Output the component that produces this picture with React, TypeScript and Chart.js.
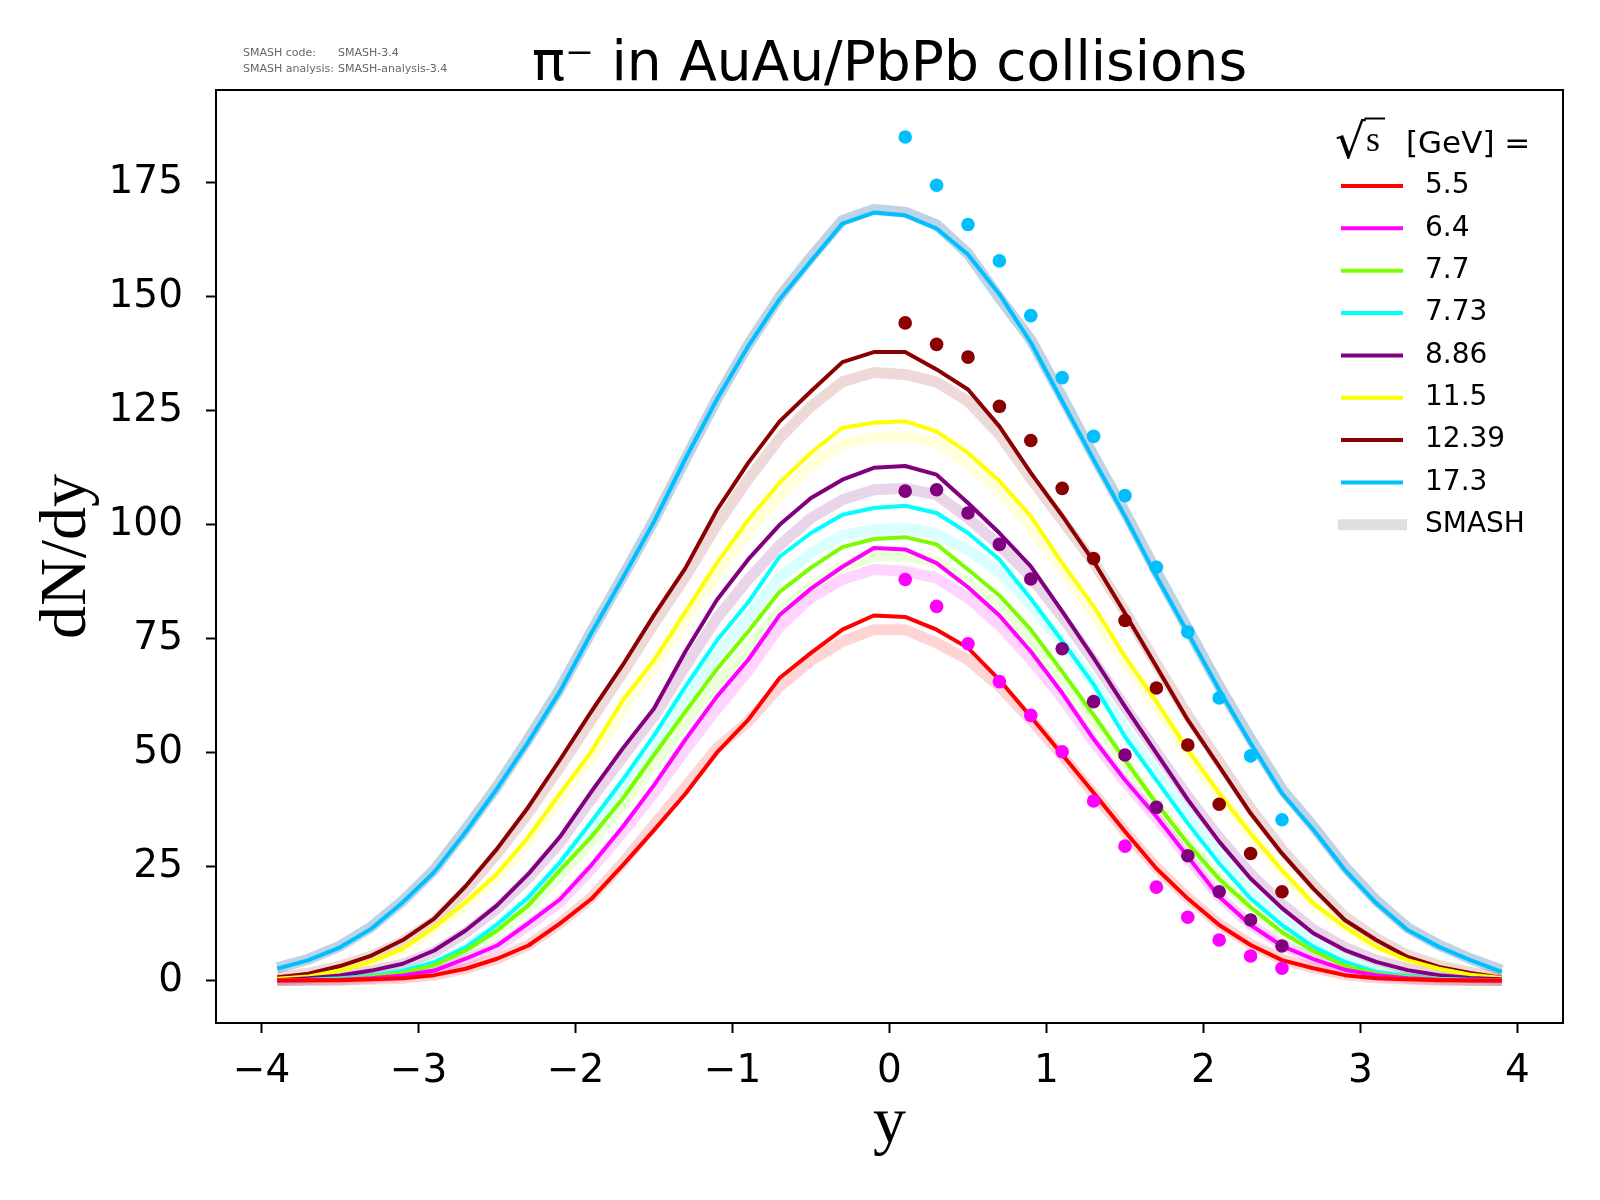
import { useEffect, useRef } from "react";
import { Chart, registerables } from "chart.js";

Chart.register(...registerables);

// rapidity grid of the model curves
const Y_GRID = [
  -3.9, -3.7, -3.5, -3.3, -3.1, -2.9, -2.7, -2.5, -2.3, -2.1, -1.9, -1.7, -1.5, -1.3, -1.1, -0.9, -0.7, -0.5, -0.3, -0.1,
  0.1, 0.3, 0.5, 0.7, 0.9, 1.1, 1.3, 1.5, 1.7, 1.9, 2.1, 2.3, 2.5, 2.7, 2.9, 3.1, 3.3, 3.5, 3.7, 3.9,
];
// rapidity of the measured points
const DATA_Y = [0.1, 0.3, 0.5, 0.7, 0.9, 1.1, 1.3, 1.5, 1.7, 1.9, 2.1, 2.3, 2.5];

const ENERGIES = ["5.5", "6.4", "7.7", "7.73", "8.86", "11.5", "12.39", "17.3"];

const LINE_5_5 = [
  0.0, 0.1, 0.1, 0.3, 0.5, 1.2, 2.6, 4.8, 7.7, 12.5, 17.9, 25.3, 33.0, 41.0, 50.0, 57.2, 66.4, 71.9, 77.0, 80.1,
  79.8, 77.0, 73.0, 66.0, 57.9, 49.6, 41.2, 32.7, 24.6, 18.0, 12.2, 7.8, 4.5, 2.7, 1.2, 0.5, 0.3, 0.1, 0.0, 0.0,
];
const LINE_6_4 = [
  0.0, 0.1, 0.2, 0.5, 1.1, 2.2, 4.8, 7.7, 12.6, 17.8, 25.3, 33.7, 42.9, 52.9, 62.3, 70.4, 80.2, 86.0, 90.8, 94.9,
  94.6, 91.6, 86.3, 80.1, 72.2, 63.1, 53.0, 44.0, 36.0, 27.2, 18.4, 12.2, 7.6, 4.7, 2.4, 1.2, 0.5, 0.2, 0.1, 0.0,
];
const LINE_7_7 = [
  0.0, 0.1, 0.3, 0.8, 1.7, 3.4, 6.6, 11.0, 16.5, 24.2, 31.5, 39.9, 49.5, 59.0, 68.3, 76.6, 85.3, 90.6, 95.1, 96.9,
  97.3, 95.7, 90.2, 84.5, 77.0, 67.8, 58.3, 48.4, 38.9, 30.1, 22.3, 16.1, 10.6, 6.5, 3.3, 1.5, 0.7, 0.3, 0.1, 0.0,
];
const LINE_7_73 = [
  0.1, 0.2, 0.5, 1.0, 2.1, 4.0, 7.3, 12.3, 18.3, 25.9, 34.8, 44.0, 53.8, 64.5, 74.6, 83.0, 93.0, 98.2, 102.2, 103.7,
  104.2, 102.6, 98.2, 92.4, 83.8, 74.5, 65.0, 53.5, 44.0, 34.5, 25.7, 18.0, 12.2, 7.4, 4.1, 1.9, 0.9, 0.4, 0.2, 0.1,
];
const LINE_8_86 = [
  0.1, 0.5, 1.1, 2.2, 3.7, 6.6, 11.0, 16.5, 23.4, 31.5, 41.4, 50.9, 59.7, 72.2, 83.5, 92.4, 100.0, 105.9, 109.9, 112.5,
  112.9, 111.0, 104.8, 98.2, 90.9, 81.0, 70.8, 60.1, 49.9, 39.7, 30.5, 22.4, 15.9, 10.4, 6.7, 4.1, 2.3, 1.2, 0.6, 0.3,
];
const LINE_11_5 = [
  0.4, 0.9, 2.2, 4.2, 7.0, 11.7, 17.2, 23.4, 31.5, 41.0, 50.2, 61.5, 70.3, 80.9, 91.6, 101.1, 109.2, 115.8, 121.3, 122.4,
  122.7, 120.5, 115.8, 109.6, 101.9, 91.6, 82.1, 71.1, 61.2, 50.6, 41.1, 32.3, 24.2, 16.9, 11.8, 7.4, 4.5, 2.6, 1.3, 0.6,
];
const LINE_12_39 = [
  0.7, 1.5, 3.2, 5.5, 8.9, 13.6, 20.7, 28.9, 38.1, 48.4, 59.0, 69.2, 80.2, 90.5, 103.2, 113.6, 122.7, 129.3, 135.7, 137.9,
  137.9, 134.1, 129.7, 121.6, 111.4, 102.0, 92.0, 80.6, 68.9, 57.2, 47.0, 36.7, 27.9, 20.2, 13.3, 8.9, 5.2, 3.0, 1.7, 0.6,
];
const LINE_17_3 = [
  2.6, 4.5, 7.3, 11.4, 17.2, 23.8, 32.6, 42.1, 52.4, 63.4, 76.2, 88.3, 100.7, 114.5, 127.5, 139.2, 149.5, 157.9, 166.1, 168.5,
  167.9, 165.0, 159.3, 150.6, 140.0, 127.1, 114.3, 101.9, 88.7, 76.3, 63.8, 52.1, 41.1, 33.1, 24.3, 17.0, 11.1, 7.4, 4.5, 1.9,
];

// SMASH bands
const SMASH_5_5 = [
  0.0, 0.1, 0.1, 0.3, 0.5, 1.2, 2.6, 4.8, 7.8, 12.6, 18.2, 25.8, 34.2, 42.5, 51.0, 56.8, 64.5, 70.2, 74.4, 77.0,
  77.0, 74.1, 70.4, 64.6, 57.2, 49.4, 41.0, 32.7, 24.8, 18.2, 12.4, 8.0, 4.7, 2.8, 1.3, 0.6, 0.3, 0.1, 0.0, 0.0,
];
const SMASH_6_4 = [
  0.0, 0.1, 0.2, 0.5, 1.1, 2.2, 4.6, 7.4, 12.1, 17.2, 24.4, 32.5, 41.2, 50.7, 59.6, 68.0, 77.7, 84.0, 88.0, 90.2,
  89.8, 88.3, 84.0, 78.0, 70.5, 62.0, 52.4, 43.6, 35.7, 27.0, 18.4, 12.3, 7.8, 4.8, 2.5, 1.2, 0.5, 0.2, 0.1, 0.0,
];
const SMASH_7_7 = [
  0.0, 0.1, 0.3, 0.8, 1.6, 3.3, 6.4, 10.6, 16.0, 23.2, 30.4, 38.5, 47.6, 56.6, 65.2, 73.2, 81.0, 86.4, 90.8, 93.1,
  93.2, 91.8, 87.2, 81.6, 74.6, 66.2, 57.2, 47.8, 38.6, 30.0, 22.3, 16.1, 10.7, 6.6, 3.4, 1.6, 0.7, 0.3, 0.1, 0.0,
];
const SMASH_7_73 = [
  0.1, 0.2, 0.5, 1.0, 2.0, 3.8, 7.0, 11.8, 17.7, 25.0, 33.6, 42.6, 52.0, 62.0, 71.5, 79.8, 88.5, 93.8, 97.7, 98.9,
  99.3, 98.0, 94.5, 89.6, 82.5, 74.2, 65.5, 55.0, 45.6, 36.2, 27.4, 19.6, 13.4, 8.3, 4.7, 2.3, 1.1, 0.5, 0.2, 0.1,
];
const SMASH_8_86 = [
  0.2, 0.5, 1.1, 2.1, 3.6, 6.3, 10.5, 15.8, 22.5, 30.3, 39.8, 49.0, 58.0, 69.0, 79.5, 88.0, 95.5, 101.5, 105.5, 107.7,
  108.0, 106.6, 101.5, 95.5, 88.6, 79.8, 70.2, 60.0, 50.2, 40.4, 31.4, 23.4, 16.8, 11.2, 7.3, 4.5, 2.6, 1.4, 0.7, 0.3,
];
const SMASH_11_5 = [
  0.4, 0.9, 2.1, 4.0, 6.7, 11.2, 16.6, 22.8, 30.6, 39.8, 48.8, 59.4, 68.8, 79.0, 89.0, 98.4, 106.4, 113.0, 117.8, 119.1,
  119.4, 118.0, 113.5, 107.4, 99.8, 90.0, 80.6, 70.0, 60.2, 50.0, 40.6, 32.0, 24.0, 16.9, 11.8, 7.4, 4.5, 2.6, 1.3, 0.6,
];
const SMASH_12_39 = [
  0.8, 1.6, 3.2, 5.4, 8.6, 13.0, 19.8, 27.8, 36.8, 46.8, 57.2, 67.5, 78.3, 88.6, 100.0, 110.0, 119.0, 126.0, 131.4, 133.4,
  133.0, 131.3, 127.1, 119.8, 110.2, 101.0, 91.8, 81.0, 69.5, 58.2, 48.0, 37.8, 28.8, 21.0, 14.0, 9.3, 5.6, 3.3, 1.8, 0.8,
];
const SMASH_17_3 = [
  2.8, 4.7, 7.6, 11.8, 17.5, 24.3, 33.2, 42.6, 53.0, 64.0, 76.5, 88.6, 101.0, 114.4, 127.6, 139.5, 150.0, 158.7, 166.8, 169.2,
  168.6, 165.8, 159.5, 149.8, 140.6, 128.0, 115.2, 102.8, 89.7, 77.2, 64.6, 53.0, 42.0, 33.8, 25.0, 17.6, 11.6, 7.8, 4.8, 2.3,
];

// measured points
const DOTS_6_4 = [88.0, 82.1, 73.9, 65.6, 58.2, 50.2, 39.4, 29.5, 20.5, 13.9, 8.9, 5.4, 2.7];
const DOTS_8_86 = [107.4, 107.7, 102.6, 95.7, 88.1, 72.8, 61.2, 49.5, 38.0, 27.4, 19.5, 13.3, 7.6];
const DOTS_12_39 = [144.3, 139.6, 136.8, 126.0, 118.5, 108.0, 92.6, 79.0, 64.2, 51.7, 38.7, 27.9, 19.5];
const DOTS_17_3 = [185.1, 174.5, 165.9, 157.9, 145.9, 132.3, 119.4, 106.4, 90.7, 76.5, 62.0, 49.3, 35.3];

const X_TICKS = [-4, -3, -2, -1, 0, 1, 2, 3, 4];
const Y_TICKS = [0, 25, 50, 75, 100, 125, 150, 175];

const LINES = [LINE_5_5, LINE_6_4, LINE_7_7, LINE_7_73, LINE_8_86, LINE_11_5, LINE_12_39, LINE_17_3];
const SMASH = [SMASH_5_5, SMASH_6_4, SMASH_7_7, SMASH_7_73, SMASH_8_86, SMASH_11_5, SMASH_12_39, SMASH_17_3];
const DOTS: [number, number[]][] = [
  [1, DOTS_6_4],
  [4, DOTS_8_86],
  [6, DOTS_12_39],
  [7, DOTS_17_3],
];

const COLORS = ["#ff0000", "#ff00ff", "#7cfc00", "#00ffff", "#800080", "#ffff00", "#8b0000", "#00bfff"];
const BAND_COLORS = [
  "rgba(255,0,0,0.17)",
  "rgba(255,0,255,0.17)",
  "rgba(124,252,0,0.15)",
  "rgba(0,255,255,0.15)",
  "rgba(128,0,128,0.17)",
  "rgba(255,255,0,0.14)",
  "rgba(139,0,0,0.15)",
  "rgba(70,130,180,0.35)",
];

const fmt = (v: number) => (v < 0 ? "\u2212" + Math.abs(v) : String(v));

const decor = {
  id: "decor",
  afterDraw(chart: Chart) {
    const { ctx, chartArea: a } = chart;
    ctx.save();
    // spines
    ctx.strokeStyle = "#000";
    ctx.lineWidth = 2;
    ctx.strokeRect(a.left, a.top, a.right - a.left, a.bottom - a.top);

    // version stamp
    ctx.fillStyle = "#666";
    ctx.font = "11px 'DejaVu Sans'";
    ctx.textAlign = "left";
    ctx.textBaseline = "alphabetic";
    ctx.fillText("SMASH code:", 243, 56);
    ctx.fillText("SMASH-3.4", 338, 56);
    ctx.fillText("SMASH analysis:", 243, 72);
    ctx.fillText("SMASH-analysis-3.4", 338, 72);

    // title
    ctx.fillStyle = "#000";
    ctx.font = "55px 'DejaVu Sans'";
    ctx.textAlign = "center";
    ctx.fillText("\u03c0\u207b in AuAu/PbPb collisions", (a.left + a.right) / 2, 80);

    // axis titles
    ctx.font = "66px 'Liberation Serif'";
    ctx.fillText("y", (a.left + a.right) / 2, 1142);
    ctx.save();
    ctx.translate(68, (a.top + a.bottom) / 2);
    ctx.rotate(-Math.PI / 2);
    ctx.textBaseline = "middle";
    ctx.fillText("dN/dy", 0, 0);
    ctx.restore();

    // legend title: radical sized to span y 117..158
    ctx.textAlign = "left";
    ctx.font = "100px 'DejaVu Serif'";
    let m = ctx.measureText("\u221a");
    const size = (100 * 41) / (m.actualBoundingBoxAscent + m.actualBoundingBoxDescent);
    ctx.font = `${size}px 'DejaVu Serif'`;
    m = ctx.measureText("\u221a");
    const rx = 1336 + m.actualBoundingBoxLeft;
    ctx.fillText("\u221a", rx, 117.5 + m.actualBoundingBoxAscent);
    ctx.lineWidth = 2;
    ctx.beginPath();
    ctx.moveTo(rx + m.actualBoundingBoxRight - 1.5, 118.5);
    ctx.lineTo(1385, 118.5);
    ctx.stroke();
    ctx.font = "36px 'Liberation Serif'";
    ctx.fillText("s", 1366, 151);
    ctx.font = "31px 'DejaVu Sans'";
    ctx.fillText("[GeV] =", 1406, 153);

    // legend entries
    ctx.font = "28px 'DejaVu Sans'";
    ctx.textBaseline = "middle";
    ENERGIES.forEach((label, i) => {
      const y = 186 + i * 42.35;
      ctx.strokeStyle = COLORS[i];
      ctx.lineWidth = 4;
      ctx.beginPath();
      ctx.moveTo(1341, y);
      ctx.lineTo(1403, y);
      ctx.stroke();
      ctx.fillStyle = "#000";
      ctx.fillText(label, 1425, y);
    });
    const ys = 186 + 8 * 42.35;
    ctx.strokeStyle = "#dfdfdf";
    ctx.lineWidth = 11;
    ctx.beginPath();
    ctx.moveTo(1338, ys);
    ctx.lineTo(1407, ys);
    ctx.stroke();
    ctx.fillText("SMASH", 1425, ys);
    ctx.restore();
  },
};

export default function App() {
  const ref = useRef<HTMLCanvasElement>(null);

  useEffect(() => {
    document.body.style.margin = "0";
    if (!ref.current) return;

    const bands = SMASH.map((vals, i) => ({
      label: "SMASH " + ENERGIES[i],
      data: Y_GRID.map((x, j) => ({ x, y: vals[j] })),
      borderColor: BAND_COLORS[i],
      borderWidth: 11,
      borderCapStyle: "butt" as const,
      borderJoinStyle: "round" as const,
      pointRadius: 0,
      fill: false,
      order: 3,
    }));
    const lines = LINES.map((vals, i) => ({
      label: ENERGIES[i],
      data: Y_GRID.map((x, j) => ({ x, y: vals[j] })),
      borderColor: COLORS[i],
      borderWidth: 4,
      borderJoinStyle: "round" as const,
      pointRadius: 0,
      fill: false,
      order: 2,
    }));
    const dots = DOTS.map(([k, vals]) => ({
      label: "data " + ENERGIES[k],
      data: DATA_Y.map((x, j) => ({ x, y: vals[j] })),
      showLine: false,
      borderWidth: 0,
      pointRadius: 6.8,
      pointBackgroundColor: COLORS[k],
      pointBorderWidth: 0,
      order: 1,
    }));

    const tickGrid = {
      display: true,
      drawOnChartArea: false,
      drawTicks: true,
      tickLength: 10,
      tickWidth: 2,
      tickColor: "#000",
    };

    const chart = new Chart(ref.current, {
      type: "line",
      data: { datasets: [...bands, ...lines, ...dots] as any },
      options: {
        animation: false,
        responsive: false,
        devicePixelRatio: 1,
        layout: { padding: { left: 0, right: 37, top: 90, bottom: 0 } },
        plugins: {
          legend: { display: false },
          tooltip: { enabled: false },
          title: { display: false },
        },
        scales: {
          x: {
            type: "linear",
            min: -4.29,
            max: 4.29,
            afterBuildTicks: (axis: any) => {
              axis.ticks = X_TICKS.map((value) => ({ value }));
            },
            afterFit: (s: any) => {
              s.height = 177;
            },
            grid: tickGrid,
            border: { display: false },
            ticks: {
              color: "#000",
              font: { family: "'DejaVu Sans'", size: 39 },
              padding: 15,
              maxRotation: 0,
              callback: (v: any) => fmt(Number(v)),
            },
          },
          y: {
            type: "linear",
            min: -9.3,
            max: 195.4,
            afterBuildTicks: (axis: any) => {
              axis.ticks = Y_TICKS.map((value) => ({ value }));
            },
            afterFit: (s: any) => {
              s.width = 216;
            },
            grid: tickGrid,
            border: { display: false },
            ticks: {
              color: "#000",
              font: { family: "'DejaVu Sans'", size: 39 },
              padding: 23,
              callback: (v: any) => fmt(Number(v)),
            },
          },
        },
      },
      plugins: [decor],
    });
    return () => chart.destroy();
  }, []);

  return (
    <div style={{ width: 1600, height: 1200, background: "#fff" }}>
      <canvas ref={ref} width={1600} height={1200} style={{ width: 1600, height: 1200, display: "block" }} />
    </div>
  );
}
